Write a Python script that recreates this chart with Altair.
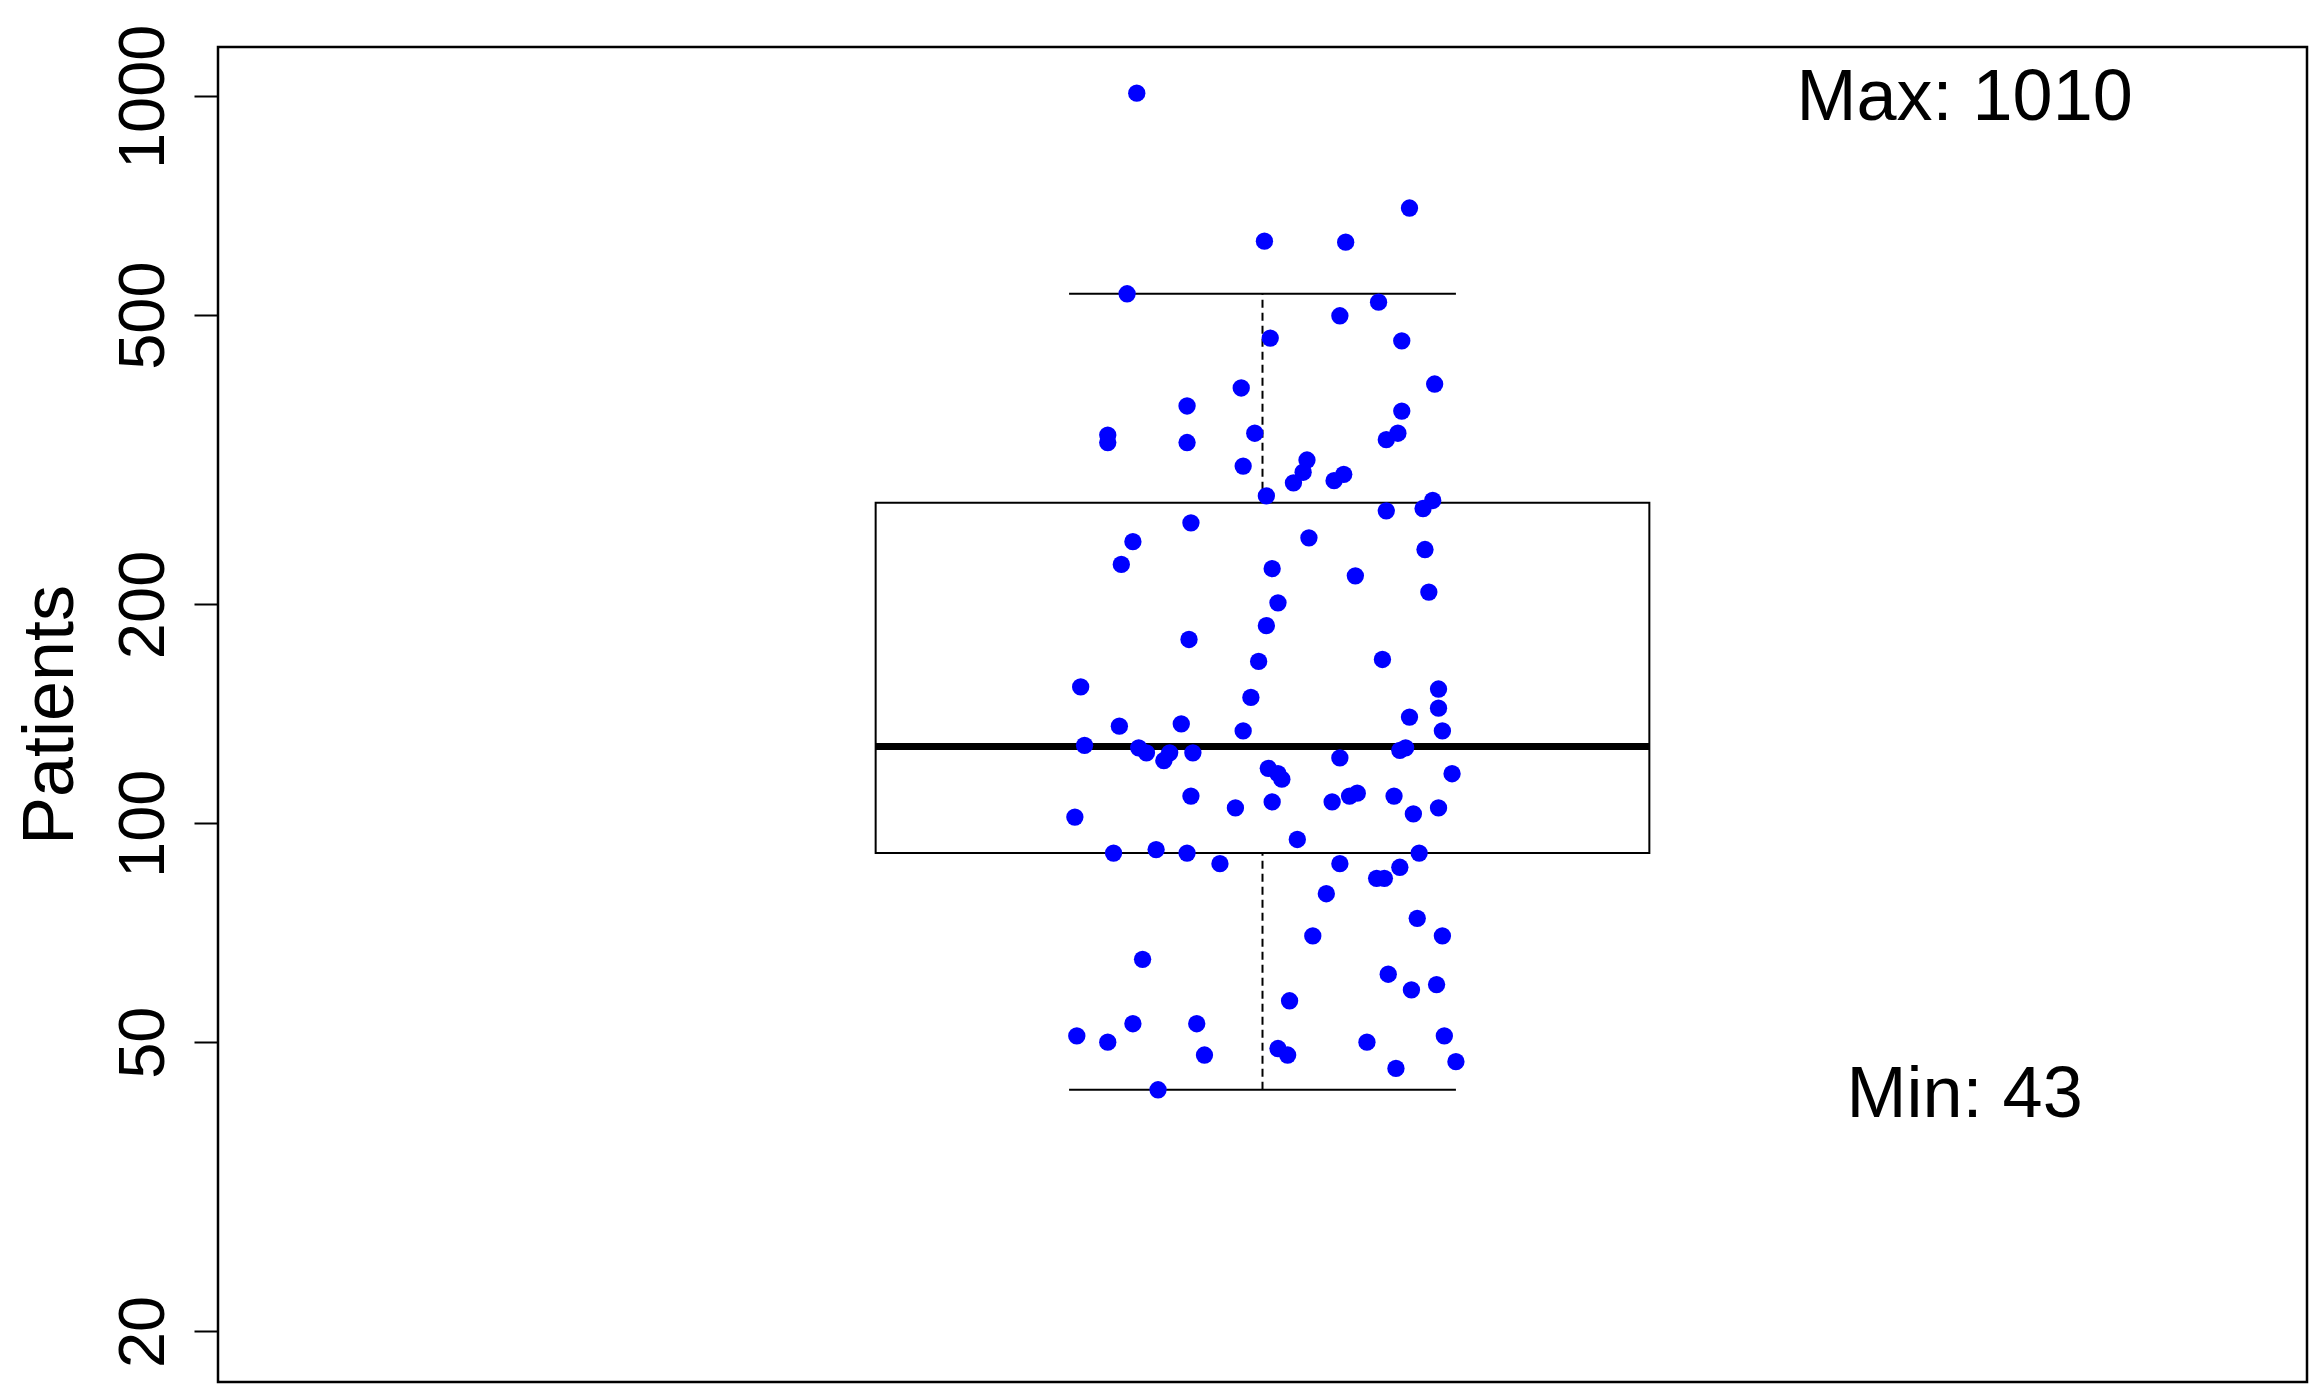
import altair as alt
import pandas as pd

# ---- data ----
PATIENTS = [1010, 632, 630, 702, 535, 499, 521, 465, 461, 402,
            397, 375, 369, 342, 334, 334, 344, 344, 337, 310,
            316, 304, 294, 302, 296, 282, 269, 278, 271, 259,
            244, 227, 247, 238, 224, 219, 208, 201, 187, 179,
            167, 168, 154, 149, 153, 144, 140, 134, 136, 137,
            134, 128, 127, 125, 125, 122, 125, 127, 126, 123,
            119, 117, 115, 117, 109, 102, 105, 107, 107, 109,
            110, 109, 103, 105, 95, 91, 92, 91, 88, 88,
            91, 87, 84, 84, 80, 74, 70, 70, 65, 62,
            59, 60, 57, 53, 53, 51, 50, 48, 49, 48,
            50, 51, 46, 47, 43]

JITTER = [-0.065, 0.001, 0.043, 0.076, -0.070, 0.040, 0.060, 0.004, 0.072, 0.089,
          -0.011, -0.039, 0.072, -0.080, -0.080, -0.039, -0.004, 0.070, 0.064, -0.010,
          0.023, 0.021, 0.016, 0.042, 0.037, 0.002, 0.064, 0.088, 0.083, -0.037,
          -0.067, -0.073, 0.024, 0.084, 0.005, 0.048, 0.086, 0.008, 0.002, -0.038,
          -0.002, 0.062, -0.094, -0.006, 0.091, 0.091, 0.076, 0.093, -0.074, -0.042,
          -0.010, -0.092, -0.064, -0.060, -0.048, -0.051, -0.036, 0.074, 0.071, 0.040,
          0.003, 0.008, 0.010, 0.098, -0.037, -0.097, -0.014, 0.005, 0.036, 0.045,
          0.049, 0.068, 0.078, 0.091, 0.018, -0.077, -0.055, -0.039, -0.022, 0.040,
          0.081, 0.071, 0.059, 0.063, 0.033, 0.080, 0.026, 0.093, -0.062, 0.065,
          0.077, 0.090, 0.014, -0.067, -0.034, -0.096, -0.080, -0.030, 0.008, 0.013,
          0.054, 0.094, 0.069, 0.100, -0.054]

BOX_CENTER = 1.0
BOX_HALF = 0.2
CAP_HALF = 0.1
Q1, MEDIAN, Q3 = 91, 127.5, 276
WHISK_LO, WHISK_HI = 43, 535

Y_TICKS = [20, 50, 100, 200, 500, 1000]
Y_DOMAIN = [17.04, 1169]
X_DOMAIN = [0.46, 1.54]

ANNOT_TEXT = ["Max: 1010", "Min: 43"]
ANNOT_Y = [1010, 43]
ANNOT_X = 1.363

FONT = "Liberation Sans, Arial, Helvetica, sans-serif"

# ---- tables ----
pts = pd.DataFrame({"x": [BOX_CENTER + j for j in JITTER], "v": PATIENTS})
box = pd.DataFrame({"x": [BOX_CENTER - BOX_HALF], "x2": [BOX_CENTER + BOX_HALF],
                    "v": [Q1], "v2": [Q3], "m": [MEDIAN]})
whisk = pd.DataFrame({"x": [BOX_CENTER, BOX_CENTER], "v": [Q3, WHISK_LO], "v2": [WHISK_HI, Q1]})
caps = pd.DataFrame({"x": [BOX_CENTER - CAP_HALF] * 2, "x2": [BOX_CENTER + CAP_HALF] * 2,
                     "v": [WHISK_HI, WHISK_LO]})
ann = pd.DataFrame({"x": [ANNOT_X] * 2, "v": ANNOT_Y, "t": ANNOT_TEXT})

xscale = alt.Scale(domain=X_DOMAIN, nice=False, zero=False)
yscale = alt.Scale(type="log", domain=Y_DOMAIN, nice=False)
yaxis = alt.Axis(values=Y_TICKS, format="d", tickSize=24, tickWidth=2, tickColor="black",
                 labelFont=FONT, labelFontSize=65, labelColor="black", labelAngle=270,
                 labelAlign="center", labelBaseline="alphabetic", labelPadding=31,
                 labelOverlap=False, labelFlush=False, domain=False, grid=False,
                 title="Patients", titleFont=FONT, titleFontSize=72, titleFontWeight="normal",
                 titleColor="black", titleAngle=270, titleAlign="center",
                 titleBaseline="alphabetic", titleX=-146, titleY=667.5)


def X(field="x"):
    return alt.X(f"{field}:Q", scale=xscale, axis=None)


def Y(field="v"):
    return alt.Y(f"{field}:Q", scale=yscale, axis=yaxis)


box_layer = alt.Chart(box).mark_rect(fill="white", fillOpacity=0, stroke="black",
                                      strokeWidth=2).encode(
    x=X(), x2="x2:Q", y=Y(), y2="v2:Q")

median_layer = alt.Chart(box).mark_rule(color="black", strokeWidth=7).encode(
    x=X(), x2="x2:Q", y=Y("m"))

whisk_layer = alt.Chart(whisk).mark_rule(color="black", strokeWidth=2,
                                          strokeDash=[8, 5]).encode(
    x=X(), y=Y(), y2="v2:Q")

cap_layer = alt.Chart(caps).mark_rule(color="black", strokeWidth=2).encode(
    x=X(), x2="x2:Q", y=Y())

pt_layer = alt.Chart(pts).mark_circle(size=300, color="#0000FF", opacity=1).encode(
    x=X(), y=Y())

text_layer = alt.Chart(ann).mark_text(font=FONT, fontSize=72, color="black",
                                       align="center", baseline="middle", dy=5).encode(
    x=X(), y=Y(), text="t:N")

chart = alt.layer(box_layer, median_layer, whisk_layer, cap_layer, pt_layer, text_layer).properties(
    width=2089, height=1335,
    autosize=alt.AutoSizeParams(type="none"),
    padding={"left": 210, "top": 39, "right": 5, "bottom": 10},
    background="white",
).configure_view(stroke="black", strokeWidth=2.5)

chart.save("out.html", embed_options={"renderer": "svg", "actions": False})
